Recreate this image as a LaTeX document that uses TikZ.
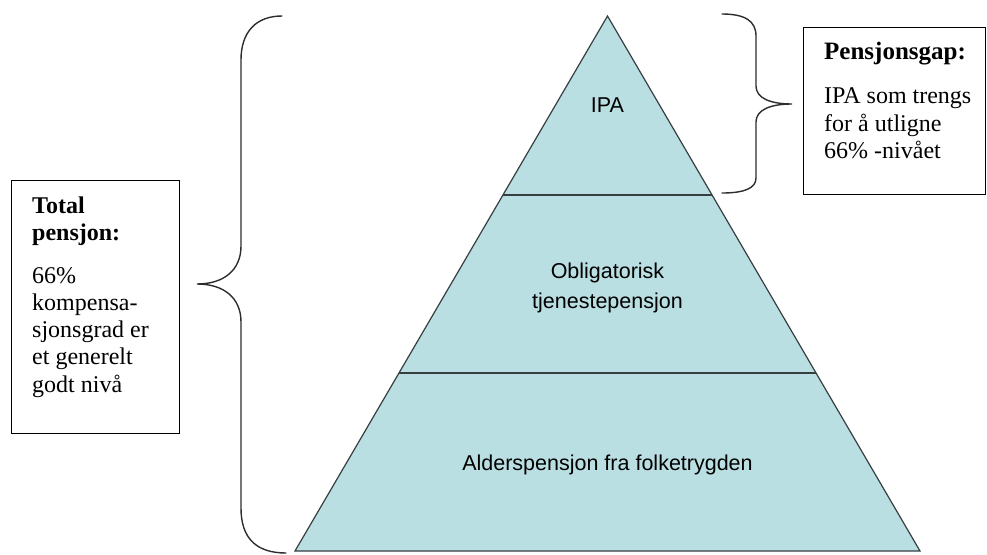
\documentclass[tikz,border=0pt]{standalone}
\usepackage{fontspec}
\setmainfont{Liberation Serif}
\newfontfamily\arialf{Liberation Sans}
\usetikzlibrary{calc}
\definecolor{pyrfill}{RGB}{186,223,227}
\definecolor{pyrline}{RGB}{55,62,64}
\definecolor{bracecol}{RGB}{45,45,45}
\begin{document}
\begin{tikzpicture}[x=1pt,y=-1pt,
  pyrlabel/.style={font=\arialf\fontsize{21.5}{25}\selectfont, text=black, inner sep=0pt, anchor=base},
  boxline/.style={font=\fontsize{24}{27}\selectfont, inner sep=0pt, anchor=base west},
  boxhead/.style={font=\bfseries\fontsize{24}{27}\selectfont, inner sep=0pt, anchor=base west},
  textbox/.style={draw=black, line width=1.1pt, inner sep=0pt, anchor=north west},
  divider/.style={draw=pyrline, line width=2.4pt},
  outline/.style={draw=pyrline, line width=1.2pt, line join=miter},
  bracestyle/.style={draw=bracecol, line width=1.4pt, line cap=round}
]
\useasboundingbox (0,0) rectangle (987,554);

% pyramid
\coordinate (A) at (607.5,16);
\coordinate (BL) at (295,551);
\coordinate (BR) at (920,551);
\coordinate (L1) at ($(A)!0.3346!(BL)$);
\coordinate (R1) at ($(A)!0.3346!(BR)$);
\coordinate (L2) at ($(A)!0.6673!(BL)$);
\coordinate (R2) at ($(A)!0.6673!(BR)$);
\fill[pyrfill] (A) -- (BL) -- (BR) -- cycle;
\draw[divider] (L1) -- (R1);
\draw[divider] (L2) -- (R2);
\draw[outline] (A) -- (BL) -- (BR) -- cycle;

\node[pyrlabel] (ipa) at (607.5,112) {IPA};
\node[pyrlabel] (obl1) at (607.5,278) {Obligatorisk};
\node[pyrlabel] (obl2) at (607.5,308) {tjenestepensjon};
\node[pyrlabel] (ald) at (607.5,470) {Alderspensjon fra folketrygden};

% left brace
\draw[bracestyle] (282,16) .. controls (256,16) and (241,32) .. (241,60)
  -- (241,246) .. controls (241,270) and (224,284) .. (197,284)
  .. controls (224,284) and (241,298) .. (241,322)
  -- (241,508) .. controls (241,538) and (256,553) .. (286,553);

% right brace
\draw[bracestyle] (722,14) .. controls (745,14) and (756,21) .. (756,36)
  -- (756,86) .. controls (756,98) and (770,104) .. (792,104)
  .. controls (770,104) and (756,110) .. (756,122)
  -- (756,178) .. controls (756,188) and (745,193) .. (722,193);

% left text box
\node[textbox, minimum width=168pt, minimum height=253pt] (lbox) at (11,180) {};
\node[boxhead] (lt1) at (32,213) {Total};
\node[boxhead] (lt2) at (32,240) {pensjon:};
\node[boxline] (lt3) at (32,283) {66\%};
\node[boxline] (lt4) at (32,310) {kompensa-};
\node[boxline] (lt5) at (32,337) {sjonsgrad er};
\node[boxline] (lt6) at (32,364) {et generelt};
\node[boxline] (lt7) at (32,392) {godt nivå};

% right text box
\node[textbox, minimum width=182pt, minimum height=167pt] (rbox) at (803,27) {};
\node[boxhead, font=\bfseries\fontsize{25}{28}\selectfont] (rt1) at (824,59) {Pensjonsgap:};
\node[boxline] (rt2) at (824,103) {IPA som trengs};
\node[boxline] (rt3) at (824,131) {for å utligne};
\node[boxline] (rt4) at (824,158) {66\% -nivået};
\end{tikzpicture}
\end{document}
